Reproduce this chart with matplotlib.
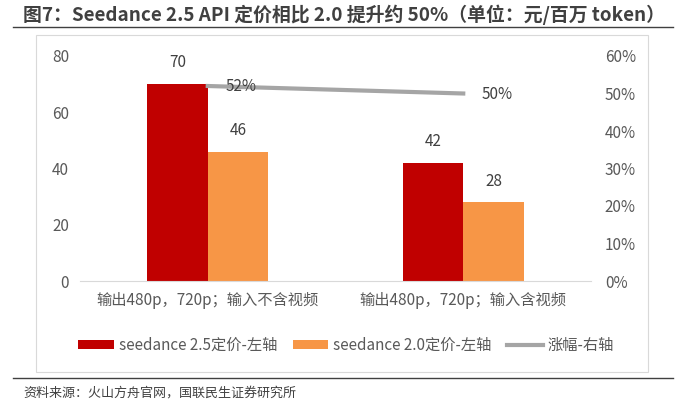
import numpy as np
from matplotlib import pyplot as plt
from matplotlib.lines import Line2D
from matplotlib.patches import Rectangle

plt.rcParams['font.family'] = ['Noto Sans CJK SC', 'DejaVu Sans']

categories = ['输出480p，720p；输入不含视频', '输出480p，720p；输入含视频']
price_25 = [70, 42]
price_20 = [46, 28]
growth = [0.52, 0.50]
growth_labels = ['52%', '50%']
left_ticks = [0, 20, 40, 60, 80]
right_ticks = [0, 0.1, 0.2, 0.3, 0.4, 0.5, 0.6]

RED = '#C00000'
ORANGE = '#F79646'
GREY = '#A5A5A5'
TXT = '#595959'

fig = plt.figure(figsize=(6.88, 4.03), dpi=100)

# outer frame of the chart area
fig.add_artist(Rectangle((36/688, 1-372/403), 612/688, 337/403,
                         transform=fig.transFigure, fill=False,
                         edgecolor='#D9D9D9', linewidth=0.8))
# title and rules
fig.text(23/688, 1-15/403, '图7：Seedance 2.5 API 定价相比 2.0 提升约 50%（单位：元/百万 token）',
         fontsize=13.6, fontweight='bold', color='#404040', va='center', ha='left')
fig.add_artist(Line2D([13/688, 673/688], [1-27/403, 1-27/403],
                      transform=fig.transFigure, color='#404040', linewidth=1.0))
fig.add_artist(Line2D([13/688, 673/688], [1-378/403, 1-378/403],
                      transform=fig.transFigure, color='#404040', linewidth=1.0))
fig.text(23/688, 1-393/403, '资料来源：火山方舟官网，国联民生证券研究所',
         fontsize=9.4, color='#404040', va='center', ha='left')

ax = fig.add_axes([80/688, 1-281/403, 511/688, 225/403])
ax2 = ax.twinx()

x = np.arange(len(categories))
w = 0.237
b1 = ax.bar(x - w/2, price_25, w, color=RED, label='seedance 2.5定价-左轴', zorder=2)
b2 = ax.bar(x + w/2, price_20, w, color=ORANGE, label='seedance 2.0定价-左轴', zorder=2)
for bars, vals in ((b1, price_25), (b2, price_20)):
    for r, v in zip(bars, vals):
        ax.text(r.get_x() + r.get_width()/2, v + 4.5, str(v), ha='center', va='bottom',
                fontsize=11, color='#404040')

ax.set_xlim(-0.5, 1.5)
ax.set_ylim(0, 80)
ax.set_yticks(left_ticks)
ax.set_xticks(x)
ax.set_xticklabels(categories)
ax2.set_ylim(0, 0.6)
ax2.set_yticks(right_ticks)
ax2.set_yticklabels([f'{int(round(t*100))}%' for t in right_ticks])

ln, = ax2.plot(x, growth, color=GREY, linewidth=3, label='涨幅-右轴', zorder=3)
for xi, g, lab in zip(x, growth, growth_labels):
    ax2.text(xi + 0.07, g - 0.002, lab, ha='left', va='center', fontsize=11, color='#404040')

for a in (ax, ax2):
    for s in a.spines.values():
        s.set_visible(False)
    a.tick_params(length=0, labelsize=11, colors=TXT)
ax.spines['bottom'].set_visible(True)
ax.spines['bottom'].set_color('#D9D9D9')
ax.tick_params(axis='y', pad=8)
ax.tick_params(axis='x', pad=8)
ax2.tick_params(axis='y', pad=10)

handles = [b1, b2, ln]
fig.legend(handles, [h.get_label() for h in handles], loc='center',
           bbox_to_anchor=(346/688, 1-345/403), ncol=3, frameon=False,
           fontsize=11, labelcolor=TXT, handlelength=2.35, handleheight=0.52,
           columnspacing=1.0, handletextpad=0.3)

fig.savefig('out.png', dpi=100)
